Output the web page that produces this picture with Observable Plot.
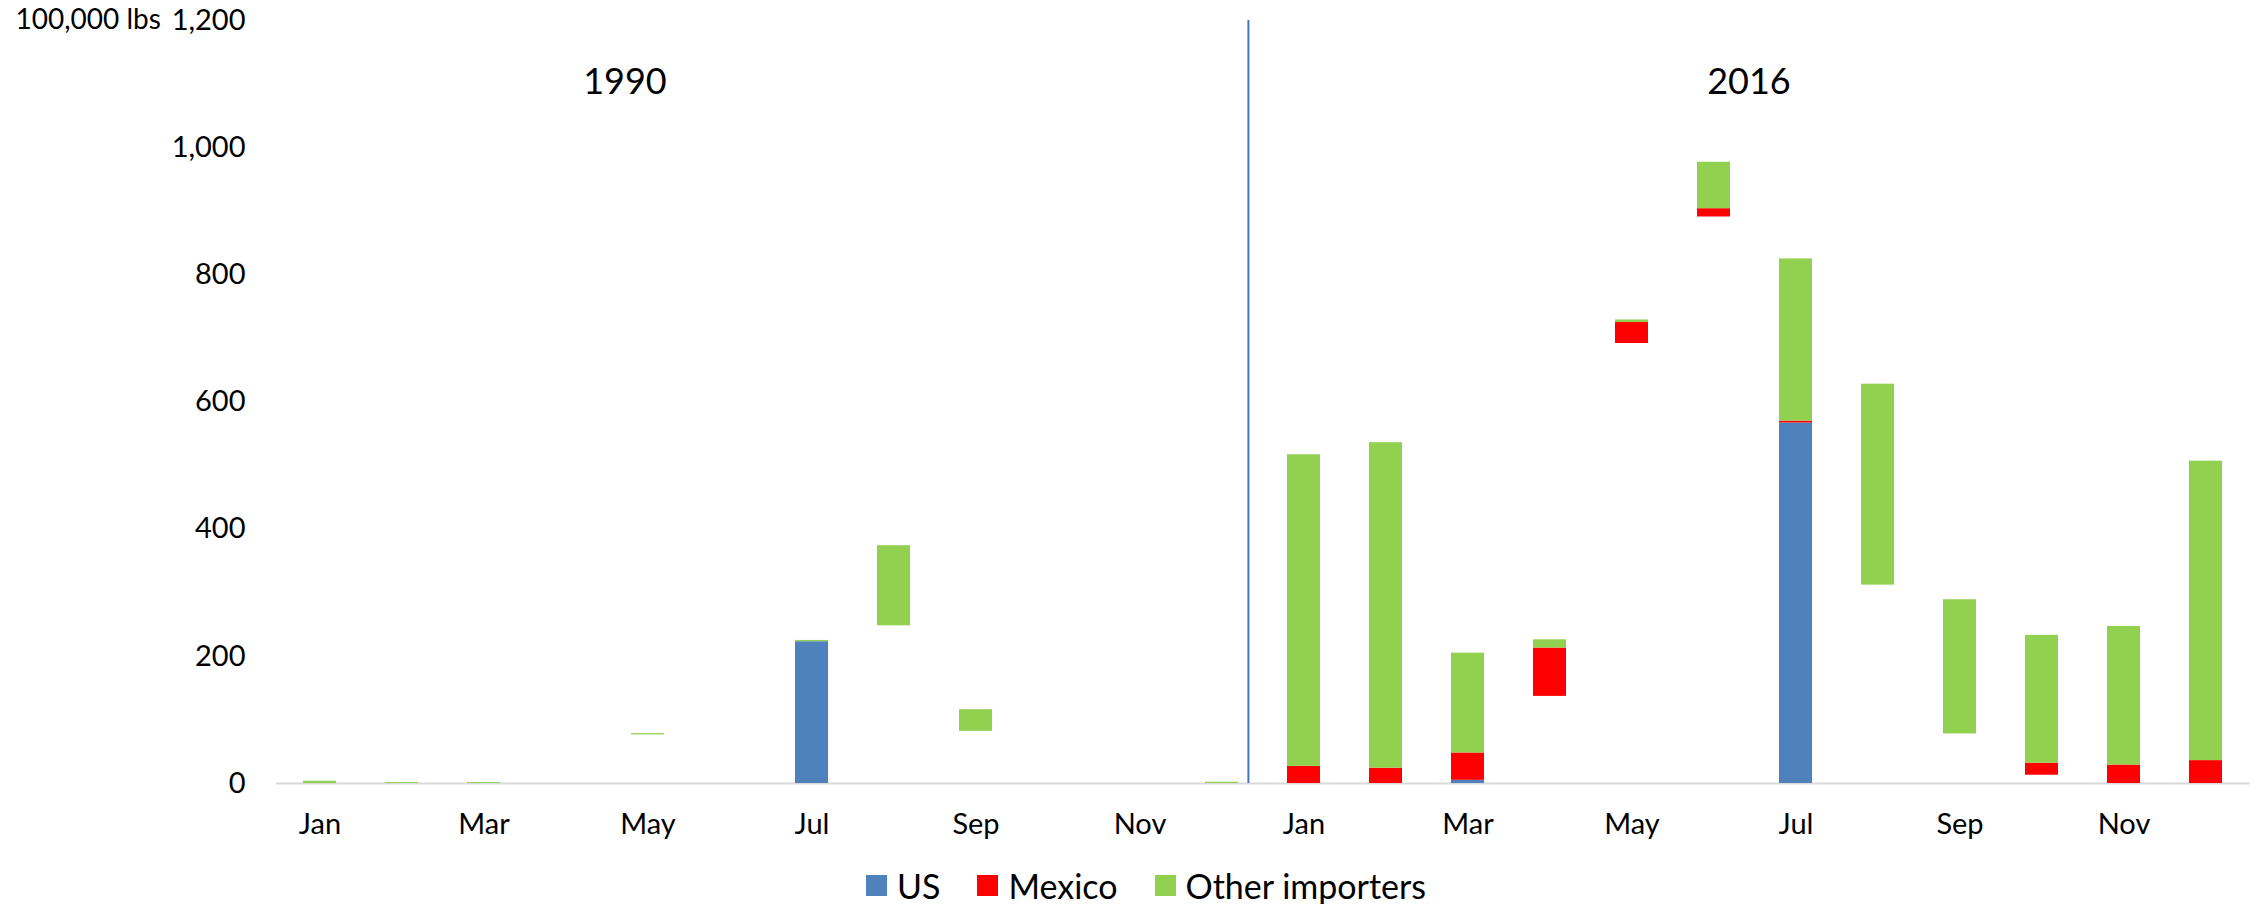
<!DOCTYPE html>
<html><head><meta charset="utf-8">
<script src="https://cdn.jsdelivr.net/npm/d3@7"></script>
<script src="https://cdn.jsdelivr.net/npm/@observablehq/plot@0.6"></script>
<style>
body{margin:0;background:#fff;font-family:Lato, sans-serif;color:#000;}
#legend{height:60px;display:flex;align-items:center;padding-left:866px;font-size:34px;}
.item{display:flex;align-items:center;margin-right:37px;}
.sw{width:21px;height:21px;margin-right:10px;}
</style></head><body>
<div id="chart"></div>
<div id="legend"></div>
<script>
// categories
const years = ["1990", "2016"];
const months = ["Jan","Feb","Mar","Apr","May","Jun","Jul","Aug","Sep","Oct","Nov","Dec"];
const keys = years.flatMap(y => months.map(m => y + "-" + m));
const tickKeys = keys.filter((k, i) => i % 2 === 0);
const yTicks = [0, 200, 400, 600, 800, 1000, 1200];

// series (100,000 lbs); base = invisible offset of floating bars
const seriesNames = ["US", "Mexico", "Other importers"];
const seriesColors = ["#4f81bd", "#ff0000", "#92d050"];
//            Jan  Feb  Mar  Apr  May  Jun  Jul  Aug  Sep  Oct  Nov  Dec
const base   = [0,   0,   0,   0,   76.5,0,   0,   248, 82,  0,   0,   0,
                0,   0,   0,   137, 692, 891, 0,   312, 78,  13,  0,   0];
const us     = [0,   0,   0,   0,   0,   0,   223, 0,   0,   0,   0,   0,
                0,   0,   5,   0,   0,   0,   567, 0,   0,   0,   0,   0];
const mexico = [0,   0,   0,   0,   0,   0,   0,   0,   0,   0,   0,   0,
                27,  24,  43,  76,  33,  13,  3,   0,   0,   19,  29,  36];
const other  = [3.5, 1.5, 1.5, 0,   2,   0,   2,   126, 34,  0,   0,   2,
                490, 512, 157, 13,  4,   73,  255, 316, 211, 201, 218, 471];

const yearLabels = ["1990", "2016"];
const yearLabelAt = ["1990-May", "2016-Jun"];
const yearLabelDx = [-23, 35];

// build stacked segments
const segments = [];
keys.forEach((k, i) => {
  let y = base[i];
  [us, mexico, other].forEach((arr, s) => {
    const v = arr[i];
    if (v > 0) { segments.push({key: k, series: seriesNames[s], y1: y, y2: y + v}); y += v; }
  });
});
const yearRows = yearLabels.map((t, i) => ({t, x: yearLabelAt[i], dx: yearLabelDx[i]}));

const chart = Plot.plot({
  width: 2257, height: 855,
  marginLeft: 276, marginRight: 7.4, marginTop: 20, marginBottom: 72,
  style: {fontFamily: "Lato, sans-serif", fontSize: "29px", color: "#000", background: "#fff"},
  x: {type: "band", domain: keys, paddingInner: 0.6, paddingOuter: 0.3, align: 0.5},
  y: {domain: [0, 1200]},
  color: {domain: seriesNames, range: seriesColors},
  marks: [
    Plot.ruleY([0], {stroke: "#d9d9d9", strokeWidth: 2}),
    Plot.barY(segments, {x: "key", y1: "y1", y2: "y2", fill: "series"}),
    Plot.ruleX(["1990-Dec"], {dx: 26.4, y1: 0, y2: 1200, stroke: "#4472c4", strokeWidth: 2}),
    Plot.axisY({ticks: yTicks, tickFormat: d3.format(","), tickSize: 0, tickPadding: 31, fontSize: 29, label: null}),
    Plot.axisX({ticks: tickKeys, tickFormat: d => d.slice(5), tickSize: 0, tickPadding: 30, fontSize: 29, label: null}),
    ...yearRows.map(r => Plot.text([r], {x: "x", y: 1102, text: "t", dx: r.dx, fontSize: 36})),
    Plot.text(["100,000 lbs"], {frameAnchor: "top-left", dx: -261, textAnchor: "start", lineAnchor: "middle", fontSize: 28})
  ]
});
document.getElementById("chart").appendChild(chart);

const legend = document.getElementById("legend");
seriesNames.forEach((n, i) => {
  const it = document.createElement("div"); it.className = "item";
  const sw = document.createElement("div"); sw.className = "sw"; sw.style.background = seriesColors[i];
  const tx = document.createElement("span"); tx.textContent = n;
  it.appendChild(sw); it.appendChild(tx); legend.appendChild(it);
});
</script>
</body></html>
